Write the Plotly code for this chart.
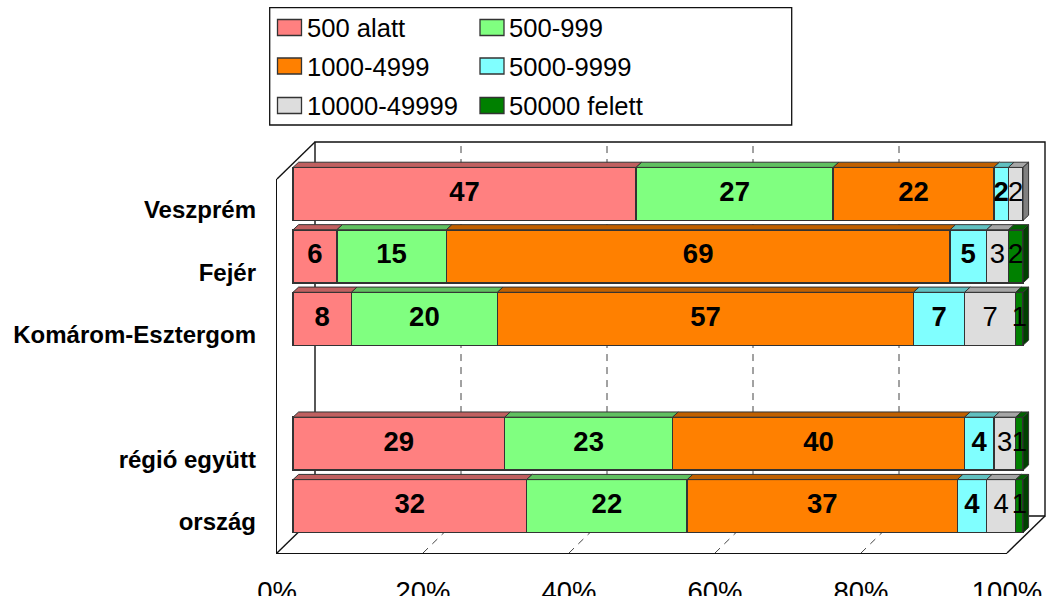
import plotly.graph_objects as go

W, H = 1051, 596
categories = ["Veszprém", "Fejér", "Komárom-Esztergom", "", "régió együtt", "ország"]
s_500_alatt = [47, 6, 8, None, 29, 32]
s_500_999 = [27, 15, 20, None, 23, 22]
s_1000_4999 = [22, 69, 57, None, 40, 37]
s_5000_9999 = [2, 5, 7, None, 4, 4]
s_10000_49999 = [2, 3, 7, None, 3, 4]
s_50000_felett = [0, 2, 1, None, 1, 1]
series_names = ["500 alatt", "500-999", "1000-4999", "5000-9999", "10000-49999", "50000 felett"]
series_values = [s_500_alatt, s_500_999, s_1000_4999, s_5000_9999, s_10000_49999, s_50000_felett]
front_colors = ["#FF8080", "#80FF80", "#FF8000", "#80FFFF", "#DDDDDD", "#008000"]
top_colors = ["#C06060", "#60C060", "#C06000", "#60C0C0", "#A6A6A6", "#006000"]
side_colors = ["#804040", "#408040", "#804000", "#408080", "#808080", "#004000"]
label_bold = [True, True, True, True, False, False]
x_ticks = [0, 20, 40, 60, 80, 100]
x_tick_labels = ["0%", "20%", "40%", "60%", "80%", "100%"]

FONT = "Liberation Sans"
EDGE = "#333333"
PX_X = 730 / 100          # pixels per percent
PX_Y = 62.4               # pixels per category slot
BAR_DX, BAR_DY = 5.6 / PX_X, 5.2 / PX_Y   # bar depth in data units
WALL_H = 374
WALL_DX, WALL_DY = 38 / PX_X, 37 / WALL_H    # box depth in data units

def dom_x(a, b):
    return [a / W, b / W]

def dom_y(top, bottom):
    return [1 - bottom / H, 1 - top / H]

fig = go.Figure()

# ---- box: back wall, left wall, floor (subplot x/y, back plane units)
bx = [0, 100, 100, 0, 0, None, 0, -WALL_DX, None, 100, 100 - WALL_DX, None, 0, -WALL_DX]
by = [0, 0, 1, 1, 0, None, 1, 1 - WALL_DY, None, 0, -WALL_DY, None, 0, -WALL_DY]
fig.add_trace(go.Scatter(x=bx, y=by, mode="lines", line=dict(color="#111111", width=1.4),
                         hoverinfo="skip", showlegend=False, xaxis="x", yaxis="y"))
gx, gy = [], []
for t in x_ticks[1:-1]:
    gx += [t - WALL_DX, t, t, None]
    gy += [-WALL_DY, 0, 1, None]
fig.add_trace(go.Scatter(x=gx, y=gy, mode="lines", line=dict(color="#444444", width=1, dash="7px,6px"),
                         hoverinfo="skip", showlegend=False, xaxis="x", yaxis="y"))

# ---- bars (bar plane subplot x2/y2)
slots = list(range(len(categories)))
for name, vals, col in zip(series_names, series_values, front_colors):
    fig.add_trace(go.Bar(x=vals, y=slots, orientation="h", name=name, marker=dict(color=col, line=dict(color=EDGE, width=1.5)),
                         width=53 / PX_Y, showlegend=False, hoverinfo="x+name", xaxis="x2", yaxis="y2"))

# ---- 3D top faces, side faces, data labels computed from the data
half = 53 / PX_Y / 2
lab = []
cum = [0] * len(slots)
for k, vals in enumerate(series_values):
    tx, ty, sx, sy, lx, ly, lt = [], [], [], [], [], [], []
    for i, v in enumerate(vals):
        if v is None or v == 0:
            continue
        a, b = cum[i], cum[i] + v
        cum[i] = b
        top = i - half
        tx += [a, b, b + BAR_DX, a + BAR_DX, a, None]
        ty += [top, top, top - BAR_DY, top - BAR_DY, top, None]
        lx.append((a + b) / 2); ly.append(i); lt.append(str(v))
        later = [series_values[m][i] for m in range(k + 1, len(series_values))]
        if not any(later):
            bot = i + half
            sx += [b, b + BAR_DX, b + BAR_DX, b, b, None]
            sy += [top, top - BAR_DY, bot - BAR_DY, bot, top, None]
    fig.add_trace(go.Scatter(x=tx, y=ty, mode="lines", fill="toself", fillcolor=top_colors[k],
                             line=dict(color=EDGE, width=1), hoverinfo="skip",
                             showlegend=False, xaxis="x2", yaxis="y2"))
    if sx:
        fig.add_trace(go.Scatter(x=sx, y=sy, mode="lines", fill="toself", fillcolor=side_colors[k],
                                 line=dict(color=EDGE, width=1), hoverinfo="skip",
                                 showlegend=False, xaxis="x2", yaxis="y2"))
    lab.append((lx, ly, lt, label_bold[k]))

for lx, ly, lt, bold in lab:
    fig.add_trace(go.Scatter(x=lx, y=ly, text=lt, mode="text", textposition="middle center",
                             textfont=dict(family=FONT, size=27.5, color="#000000", weight=700 if bold else 400),
                             hoverinfo="skip", showlegend=False, xaxis="x2", yaxis="y2"))

# ---- front plane subplot x3/y3 carries the tick labels
fig.add_trace(go.Scatter(x=[0], y=[0], mode="markers", marker=dict(opacity=0), hoverinfo="skip",
                         showlegend=False, xaxis="x3", yaxis="y3"))

box_line = dict(showline=True, linecolor="#111111", linewidth=1.4, automargin=False)
fig.update_layout(
    width=W, height=H, autosize=False, margin=dict(l=0, r=0, t=0, b=0, autoexpand=False),
    paper_bgcolor="white", plot_bgcolor="rgba(0,0,0,0)", barmode="stack", showlegend=False,
    font=dict(family=FONT, color="#000000"),
    xaxis=dict(domain=[0, 1], range=[-315 / PX_X, (W - 315) / PX_X], anchor="y", visible=False),
    yaxis=dict(domain=[0, 1], range=[-(H - 516) / WALL_H, 1 + 142 / WALL_H], anchor="x", visible=False),
    xaxis2=dict(domain=[0, 1], range=[-293 / PX_X, (W - 293) / PX_X], anchor="y2", visible=False),
    yaxis2=dict(domain=[0, 1], range=[5.5 + (H - 537.4) / PX_Y, -0.5 - 162.6 / PX_Y], anchor="x2", visible=False),
    xaxis3=dict(domain=dom_x(277, 1007), range=[0, 100], anchor="y3", tickvals=x_ticks, ticktext=x_tick_labels,
                tickfont=dict(family=FONT, size=27.5, color="#000000"), ticks="", ticklabelstandoff=14,
                showgrid=False, zeroline=False, **box_line),
    yaxis3=dict(domain=dom_y(178.6, 553), range=[5.5, -0.5], anchor="x3", tickvals=slots, ticktext=categories,
                tickfont=dict(family=FONT, size=24, color="#000000", weight=700), ticks="", ticklabelstandoff=15,
                showgrid=False, zeroline=False, **box_line),
)

# ---- legend box
def px_x(v):
    return v / W

def px_y(v):
    return 1 - v / H

fig.add_shape(type="rect", xref="paper", yref="paper", x0=px_x(269.7), x1=px_x(791.7), y0=px_y(125), y1=px_y(7.7),
              line=dict(color="#111111", width=1.3), fillcolor="white")
row_y = [27.5, 66, 105.5]
col_x = [277.5, 480]
for k, name in enumerate(series_names):
    cx, cy = col_x[k % 2], row_y[k // 2]
    fig.add_shape(type="rect", xref="paper", yref="paper", x0=px_x(cx), x1=px_x(cx + 24), y0=px_y(cy + 8), y1=px_y(cy - 8),
                  line=dict(color=EDGE, width=1.3), fillcolor=front_colors[k])
    fig.add_annotation(xref="paper", yref="paper", x=px_x(cx + 27), y=px_y(cy + 0.5), text=name, showarrow=False,
                       xanchor="left", yanchor="middle", font=dict(family=FONT, size=25.6, color="#000000"))

fig.write_html("out.html", config={"displayModeBar": False},
               post_script="document.body.style.margin='0';document.body.style.overflow='hidden';")
